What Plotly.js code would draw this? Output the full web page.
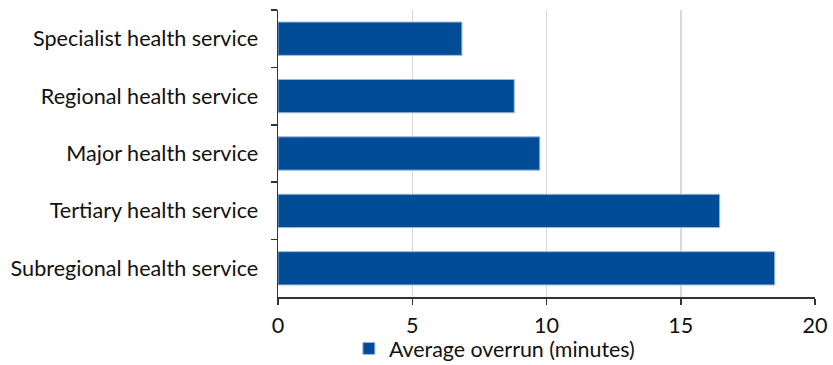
<!DOCTYPE html>
<html><head><meta charset="utf-8">
<script src="https://cdn.plot.ly/plotly-3.0.1.min.js"></script>
<style>html,body{margin:0;padding:0;background:#fff}#c{width:833px;height:365px}</style>
</head><body><div id="c"></div>
<script>
const categories = ["Specialist health service","Regional health service","Major health service","Tertiary health service","Subregional health service"];
const overrun = [6.85, 8.8, 9.75, 16.45, 18.5];
const seriesName = "Average overrun (minutes)";
const xTicks = [0,5,10,15,20];

const trace = {
  type: "bar", orientation: "h",
  y: categories, x: overrun, name: seriesName,
  marker: {color: "#004C97", line: {color: "#9DB8DA", width: 1}},
  showlegend: true, hoverinfo: "skip"
};
const layout = {
  width: 833, height: 365,
  margin: {l: 278, r: 18, t: 10, b: 68, autoexpand: false},
  paper_bgcolor: "#fff", plot_bgcolor: "#fff",
  font: {family: "Lato, 'Open Sans', sans-serif", size: 21.6, color: "#111"},
  bargap: 0.42,
  xaxis: {
    range: [0, 20], tickvals: xTicks, ticktext: xTicks.map(String),
    showgrid: true, gridcolor: "#D9D9D9", gridwidth: 1.5,
    zeroline: false, showline: true, linecolor: "#333", linewidth: 1.5,
    ticks: "outside", ticklen: 6, tickwidth: 1.5, tickcolor: "#333",
    ticklabelstandoff: 3, fixedrange: true, automargin: false
  },
  yaxis: {
    type: "category", categoryorder: "array", categoryarray: categories,
    autorange: "reversed",
    showline: true, linecolor: "#333", linewidth: 1.5,
    ticks: "outside", ticklen: 6, tickwidth: 1.5, tickcolor: "#333",
    tickson: "boundaries", ticklabelstandoff: 14,
    showgrid: false, zeroline: false, fixedrange: true, automargin: false
  },
  legend: {orientation: "h", x: 0.132, xanchor: "left", y: -0.108, yanchor: "top",
    bgcolor: "rgba(0,0,0,0)",
    font: {size: 21.4}, itemwidth: 30, tracegroupgap: 0},
};
Plotly.newPlot("c", [trace], layout, {displayModeBar: false, staticPlot: true});
</script></body></html>
